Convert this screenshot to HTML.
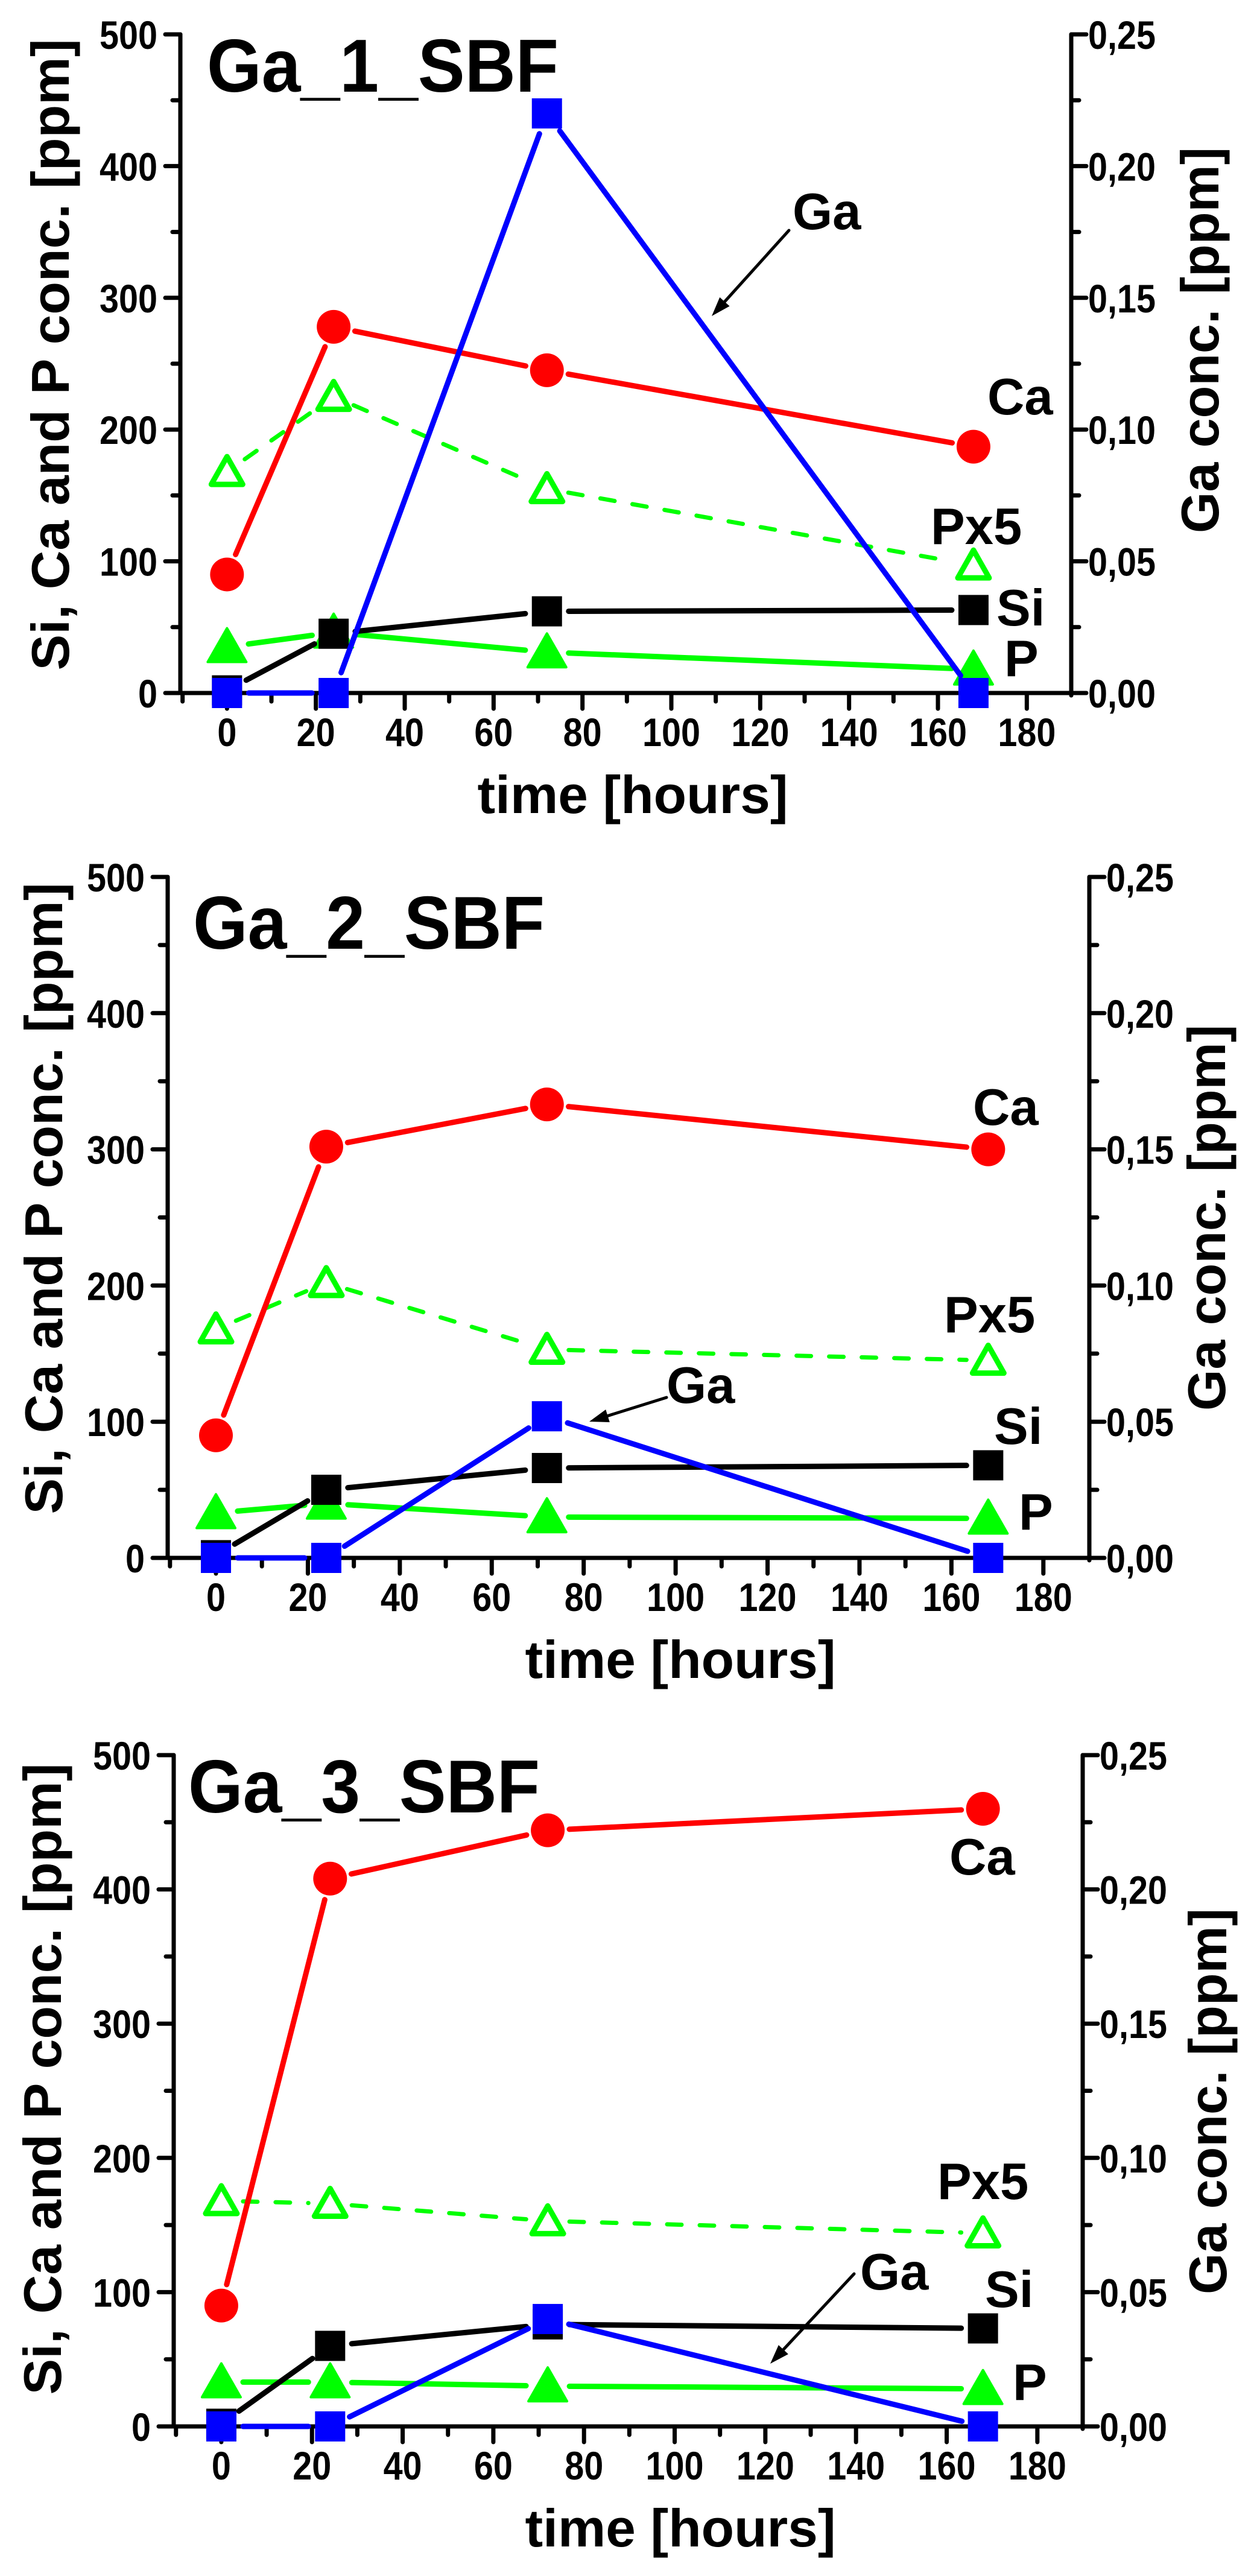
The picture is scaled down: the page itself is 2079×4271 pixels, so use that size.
<!DOCTYPE html>
<html><head><meta charset="utf-8"><style>
html,body{margin:0;padding:0;background:#fff}
svg{display:block}
text{font-family:"Liberation Sans",Arial,sans-serif;font-weight:bold;fill:#000}
</style></head><body>
<svg id="fig" width="2079" height="4271" viewBox="0 0 2079 4271" xmlns="http://www.w3.org/2000/svg"></svg>
<script>
const hours = [0, 24, 72, 168];
const xTicks = [0, 20, 40, 60, 80, 100, 120, 140, 160, 180];
const yTicksLeft = [0, 100, 200, 300, 400, 500];
const yTickLabelsRight = ["0,00", "0,05", "0,10", "0,15", "0,20", "0,25"];
const yTicksRight = [0, 0.05, 0.10, 0.15, 0.20, 0.25];
const panelTitles = ["Ga_1_SBF", "Ga_2_SBF", "Ga_3_SBF"];
// Panel 1
const ca1 = [90, 278, 245, 187];
const px1 = [168, 225, 155, 97];
const si1 = [2, 45, 62, 63];
const p1 = [35, 46, 31, 18];
const ga1 = [0, 0, 0.22, 0];
// Panel 2
const ca2 = [90, 302, 333, 300];
const px2 = [168, 202, 153, 145];
const si2 = [2, 50, 66, 68];
const p2 = [33, 40, 30, 29];
const ga2 = [0, 0, 0.052, 0];
// Panel 3
const ca3 = [90, 408, 444, 460];
const px3 = [168, 166, 153, 144];
const si3 = [2, 60, 76, 73];
const p3 = [33, 33, 30, 28];
const ga3 = [0, 0, 0.04, 0];

const svg = document.getElementById('fig');
const NS = 'http://www.w3.org/2000/svg';
function mk(tag, attrs, parent, txt){
  const e = document.createElementNS(NS, tag);
  for (const k in attrs) e.setAttribute(k, attrs[k]);
  if (txt !== undefined) e.textContent = txt;
  (parent || svg).appendChild(e);
  return e;
}
function tlen(s){ let w = 0; for (const c of s) w += (c === ',' ? 16 : 32); return w; }

const layouts = [
  {xL:299, xR:1776, yT:57, yB:1149, tx:343, ty:152, xtc:1049, ltc:588, rtb:884, rtx:1988, ltx:82,
   lab:{ca:[1637,687], px:[1543,902], si:[1652,1037], p:[1665,1121], ga:[1314,380]}, arrow:[1308,382,1180,524]},
  {xL:278, xR:1806, yT:1454, yB:2583, tx:320, ty:1573, xtc:1128, ltc:1987, rtb:2339, rtx:1999, ltx:71,
   lab:{ca:[1613,1865], px:[1565,2209], si:[1648,2394], p:[1689,2536], ga:[1105,2326]}, arrow:[1105,2317,977,2357]},
  {xL:288, xR:1795, yT:2910, yB:4023, tx:312, ty:3005, xtc:1128, ltc:3447, rtb:3804, rtx:2001, ltx:69,
   lab:{ca:[1574,3108], px:[1554,3646], si:[1633,3825], p:[1679,3979], ga:[1426,3796]}, arrow:[1416,3770,1277,3919]}
];
const datasets = [
  {ca:ca1, px:px1, si:si1, p:p1, ga:ga1},
  {ca:ca2, px:px2, si:si2, p:p2, ga:ga2},
  {ca:ca3, px:px3, si:si3, p:p3, ga:ga3}
];
const XMIN = -10.5, XMAX = 190;

function drawPanel(i){
  const L = layouts[i], D = datasets[i];
  const g = mk('g', {});
  
  
  const xs = h => L.xL + (h - XMIN) / (XMAX - XMIN) * (L.xR - L.xL);
  const yl = v => L.yB - v / 500 * (L.yB - L.yT);
  const yr = v => L.yB - v / 0.25 * (L.yB - L.yT);

  const ax = mk('g', {stroke:'#000','stroke-width':7,'stroke-linecap':'round'}, g);
  
  
  mk('line', {x1:L.xL, y1:L.yT, x2:L.xL, y2:L.yB}, ax);
  mk('line', {x1:L.xR, y1:L.yT, x2:L.xR, y2:L.yB+4}, ax);
  mk('line', {x1:L.xL, y1:L.yB, x2:L.xR, y2:L.yB}, ax);
  for (let v = 0; v <= 500; v += 50){
    const len = (v % 100 === 0) ? 25 : 13;
    mk('line', {x1:L.xL-len, y1:yl(v), x2:L.xL, y2:yl(v)}, ax);
  }
  yTicksLeft.forEach(v => {
    const s = String(v);
    const t = mk('text', {x:L.xL-38, y:yl(v)+24, 'font-size':66, 'text-anchor':'end', textLength:tlen(s), lengthAdjust:'spacingAndGlyphs'}, g, s);
    
    
  });
  for (let k = 0; k <= 10; k++){
    const v = k * 0.025;
    const len = (k % 2 === 0) ? 25 : 13;
    mk('line', {x1:L.xR, y1:yr(v), x2:L.xR+len, y2:yr(v)}, ax);
  }
  yTicksRight.forEach((v, j) => {
    const s = yTickLabelsRight[j];
    const t = mk('text', {x:L.xR+28, y:yr(v)+24, 'font-size':66, textLength:tlen(s), lengthAdjust:'spacingAndGlyphs'}, g, s);
    
    
  });
  for (let h = -10; h <= 180; h += 10){
    const len = (h % 20 === 0) ? 26 : 14;
    mk('line', {x1:xs(h), y1:L.yB, x2:xs(h), y2:L.yB+len}, ax);
  }
  xTicks.forEach(h => {
    const s = String(h);
    const t = mk('text', {x:xs(h), y:L.yB+88, 'font-size':66, 'text-anchor':'middle', textLength:tlen(s), lengthAdjust:'spacingAndGlyphs'}, g, s);
    
    
  });
  const xt = mk('text', {x:L.xtc, y:L.yB+199, 'font-size':88, 'text-anchor':'middle', textLength:515, lengthAdjust:'spacingAndGlyphs'}, g, 'time [hours]');
  
  
  const lt = mk('text', {x:0, y:0, 'font-size':88, 'text-anchor':'middle', transform:`translate(${L.ltx+32},${L.ltc}) rotate(-90)`, textLength:1047, lengthAdjust:'spacingAndGlyphs'}, g, 'Si, Ca and P conc. [ppm]');
  
  
  const rt = mk('text', {x:0, y:0, 'font-size':88, transform:`translate(${L.rtx+32},${L.rtb}) rotate(-90)`, textLength:640, lengthAdjust:'spacingAndGlyphs'}, g, 'Ga conc. [ppm]');
  
  
  const pt = mk('text', {x:L.tx, y:L.ty, 'font-size':124, textLength:583, lengthAdjust:'spacingAndGlyphs'}, g, panelTitles[i]);
  
  

  function series(name, vals, yfn, color, marker, dashed){
    const sg = mk('g', {}, g);
    
    
    const pts = vals.map((v, j) => [xs(hours[j]), yfn(v)]);
    const gap = 36;
    for (let j = 0; j < pts.length - 1; j++){
      const [x1, y1] = pts[j], [x2, y2] = pts[j+1];
      const dx = x2 - x1, dy = y2 - y1, d = Math.hypot(dx, dy);
      if (d <= 2 * gap) continue;
      const ux = dx / d, uy = dy / d;
      const attrs = {x1:x1+ux*gap, y1:y1+uy*gap, x2:x2-ux*gap, y2:y2-uy*gap, stroke:color,
        'stroke-width': dashed ? 7 : 9, 'stroke-linecap':'round'};
      if (dashed) attrs['stroke-dasharray'] = '24 30';
      const ln = mk('line', attrs, sg);
      
      
    }
    pts.forEach(([x, y]) => {
      let m;
      if (marker === 'circle') m = mk('circle', {cx:x, cy:y, r:28, fill:color}, sg);
      else if (marker === 'square') m = mk('rect', {x:x-25, y:y-25, width:50, height:50, fill:color}, sg);
      else if (marker === 'tri') m = mk('polygon', {points:`${x},${y-31} ${x+32},${y+25} ${x-32},${y+25}`, fill:color, stroke:color, 'stroke-width':4, 'stroke-linejoin':'round'}, sg);
      else m = mk('polygon', {points:`${x},${y-25} ${x+26},${y+21} ${x-26},${y+21}`, fill:'#fff', stroke:color, 'stroke-width':9, 'stroke-linejoin':'round'}, sg);
      
      
    });
  }
  series('px5', D.px, yl, '#00ff00', 'opentri', true);
  series('p', D.p, yl, '#00ff00', 'tri', false);
  series('si', D.si, yl, '#000000', 'square', false);
  series('ca', D.ca, yl, '#ff0000', 'circle', false);
  series('ga', D.ga, yr, '#0000ff', 'square', false);

  const labs = {ca:'Ca', px:'Px5', si:'Si', p:'P', ga:'Ga'};
  for (const k in labs){
    const t = mk('text', {x:L.lab[k][0], y:L.lab[k][1], 'font-size':85}, g, labs[k]);
    
    
  }
  const [ax1, ay1, ax2, ay2] = L.arrow;
  const ag = mk('g', {}, g);
  
  
  const dx = ax2 - ax1, dy = ay2 - ay1, d = Math.hypot(dx, dy), ux = dx/d, uy = dy/d;
  const bx = ax2 - ux*32, by = ay2 - uy*32;
  mk('line', {x1:ax1, y1:ay1, x2:bx, y2:by, stroke:'#000', 'stroke-width':5, 'stroke-linecap':'round'}, ag);
  mk('polygon', {points:`${ax2},${ay2} ${bx - uy*11},${by + ux*11} ${bx + uy*11},${by - ux*11}`, fill:'#000'}, ag);
}
for (let i = 0; i < 3; i++) drawPanel(i);
</script>
</body></html>
